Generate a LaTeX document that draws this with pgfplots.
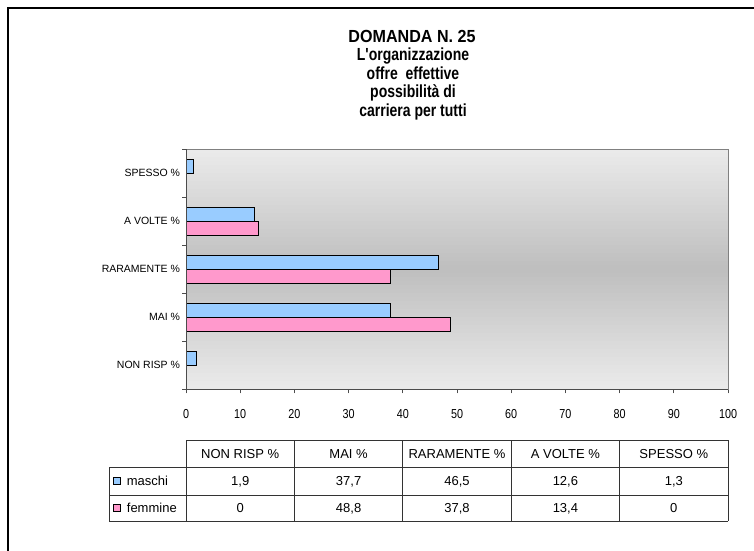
\documentclass[border=0pt]{standalone}
\usepackage{fontspec}
\setmainfont{Liberation Sans}
\usepackage{graphicx}
\usepackage{pgfplots}
\pgfplotsset{compat=1.18}
\definecolor{mblue}{HTML}{99CCFF}
\definecolor{fpink}{HTML}{FF99CC}
\definecolor{axgray}{HTML}{808080}
\definecolor{tabline}{HTML}{333333}
\definecolor{bglight}{HTML}{EBEBEB}
\definecolor{bgdark}{HTML}{BEBEBE}
\newcommand{\tl}[2]{\scalebox{#1}[1]{\fontsize{17.5}{17.5}\selectfont\bfseries #2}}
\begin{document}
\begin{tikzpicture}[x=1pt,y=1pt]
\path[use as bounding box] (0,0) rectangle (754,550);
\draw[line width=2pt] (7.7,-5) -- (7.7,542.3) -- (760,542.3);
% title
\node[anchor=base] at (412,507.7) {\tl{0.92}{DOMANDA N. 25}};
\node[anchor=base] at (413,489.3) {\tl{0.8}{L\textquotesingle organizzazione}};
\node[anchor=base] at (413,470.7) {\tl{0.8}{offre\ \ effettive}};
\node[anchor=base] at (413,452.3) {\tl{0.8}{possibilità di}};
\node[anchor=base] at (413,433.3) {\tl{0.8}{carriera per tutti}};
% plot-area gradient (strips)
\foreach \i in {0,...,59} {
  \pgfmathsetmacro{\p}{100*(1-abs((\i+0.5)/60-0.5)*2)}
  \colorlet{stripc}{bgdark!\p!bglight}
  \fill[stripc] (186,160.7+4*\i) rectangle (728,160.7+4*\i+4.3);
}
\begin{axis}[
  at={(186pt,160.7pt)}, anchor=south west,
  scale only axis, width=542pt, height=240pt,
  xbar, bar width=14pt,
  xmin=0, xmax=100, ymin=-0.5, ymax=4.5,
  xtick={0,10,...,100},
  ytick={-0.5,0.5,1.5,2.5,3.5,4.5}, yticklabels={},
  extra y ticks={0,1,2,3,4},
  extra y tick labels={NON RISP \%, MAI \%, RARAMENTE \%, A VOLTE \%, SPESSO \%},
  extra y tick style={major tick length=0pt},
  tick align=outside, tick pos=left, major tick length=4pt,
  axis line style={axgray, line width=0.8pt},
  tick style={black!70, line width=0.8pt},
  /pgf/number format/assume math mode=true,
  xticklabel={\scalebox{0.83}[1]{\pgfmathprintnumber{\tick}}},
  xticklabel style={font=\fontsize{13}{13}\selectfont, yshift=-13pt},
  yticklabel style={font=\fontsize{10.5}{10.5}\selectfont, xshift=-2.5pt},
]
\addplot[fill=fpink, draw=black, line width=0.8pt, bar shift=-7pt]
  coordinates {(0,0) (48.8,1) (37.8,2) (13.4,3) (0,4)};
\addplot[fill=mblue, draw=black, line width=0.8pt, bar shift=7pt]
  coordinates {(1.9,0) (37.7,1) (46.5,2) (12.6,3) (1.3,4)};
\end{axis}
\draw[black!70, line width=0.9pt] (186,160.7) -- (186,400.7);
\draw[black!70, line width=0.9pt] (186,160.7) -- (728,160.7);
% data table
\begin{scope}[tabline, line width=0.8pt]
\draw (186,110) -- (728,110);
\draw (109,83) -- (728,83);
\draw (109,55) -- (728,55);
\draw (109,29) -- (728,29);
\draw (109,83) -- (109,29);
\foreach \xx in {186,294.4,402.8,511.2,619.6,728} {\draw (\xx,110) -- (\xx,29);}
\end{scope}
\begin{scope}[every node/.style={anchor=base, font=\fontsize{13}{13}\selectfont, inner sep=0pt}]
\node at (240.2,92) {NON RISP \%};
\node at (348.6,92) {MAI \%};
\node at (457.0,92) {RARAMENTE \%};
\node at (565.4,92) {A VOLTE \%};
\node at (673.8,92) {SPESSO \%};
\node at (240.2,64.5) {1,9};
\node at (348.6,64.5) {37,7};
\node at (457.0,64.5) {46,5};
\node at (565.4,64.5) {12,6};
\node at (673.8,64.5) {1,3};
\node at (240.2,37.5) {0};
\node at (348.6,37.5) {48,8};
\node at (457.0,37.5) {37,8};
\node at (565.4,37.5) {13,4};
\node at (673.8,37.5) {0};
\node[anchor=base west] at (126.7,64.5) {maschi};
\node[anchor=base west] at (126.7,37.5) {femmine};
\end{scope}
\draw[fill=mblue, draw=black, line width=0.7pt] (113.3,65.3) rectangle (120.7,72.7);
\draw[fill=fpink, draw=black, line width=0.7pt] (113.3,38.3) rectangle (120.7,45.7);
\end{tikzpicture}
\end{document}
